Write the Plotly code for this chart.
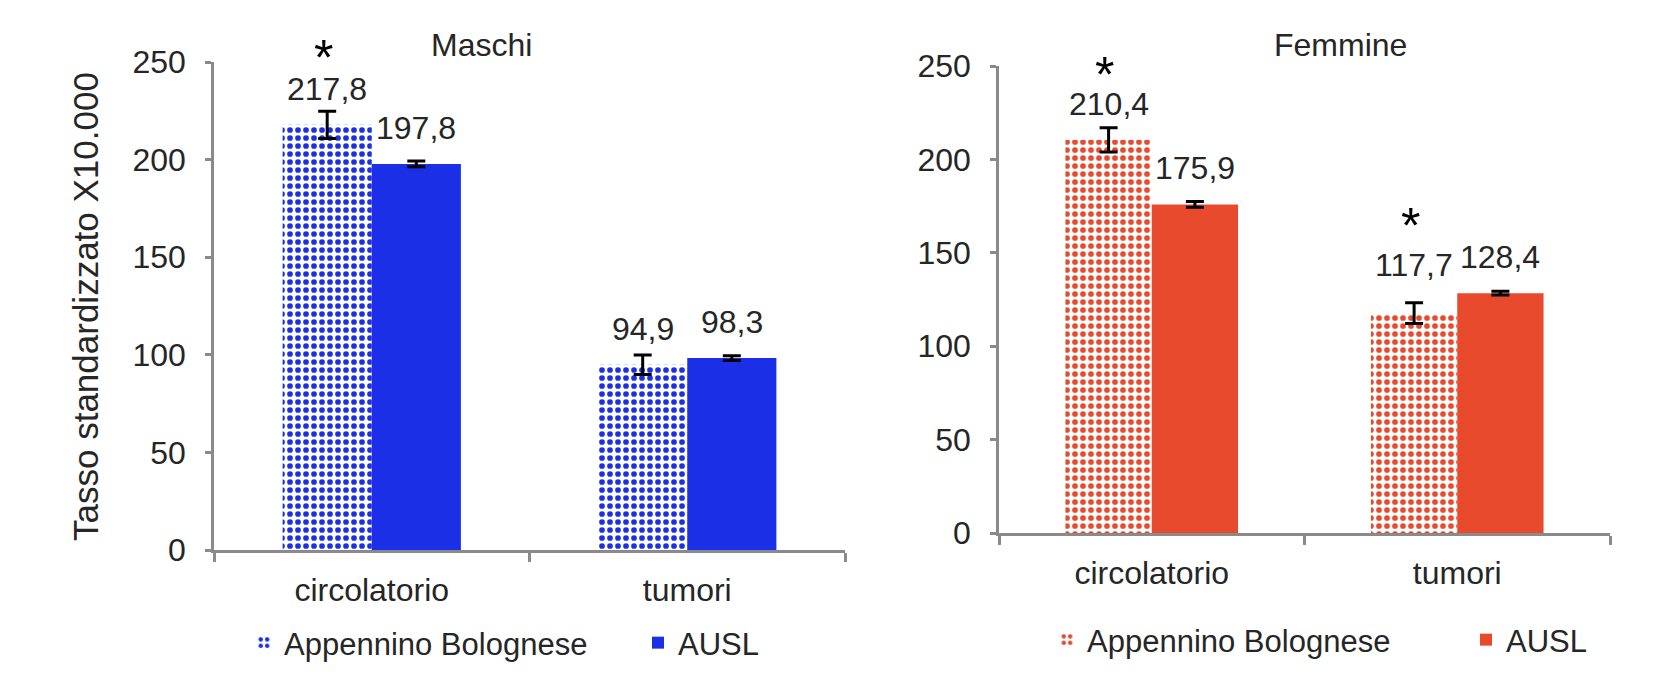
import plotly.graph_objects as go

# The page body adds an 8 px margin, so the figure is a little smaller than
# the window and every screen position is measured from that offset.
OFF = 8
W, H = 1656 - 2 * OFF, 674 - 2 * OFF

# ── Data ─────────────────────────────────────────────────────────────────────
categories = ["circolatorio", "tumori"]
series_names = ["Appennino Bolognese", "AUSL"]
y_ticks = [0, 50, 100, 150, 200, 250]

maschi_appennino = [217.8, 94.9]
maschi_appennino_err = [7.0, 5.0]
maschi_ausl = [197.8, 98.3]
maschi_ausl_err = [1.5, 1.2]
maschi_sig = [True, False]

femmine_appennino = [210.4, 117.7]
femmine_appennino_err = [6.5, 5.5]
femmine_ausl = [175.9, 128.4]
femmine_ausl_err = [1.5, 1.0]
femmine_sig = [True, True]

# ── Style ────────────────────────────────────────────────────────────────────
BLUE = "#1b2fe6"
RED = "#e84a2e"
AXIS = "#8a8a8a"
TEXT = "#262626"
FONT = "Liberation Sans, Arial, sans-serif"
BARGAP = 0.435
HALF = (1 - BARGAP) / 4      # centre offset of each bar in a group
LABEL_LIFT = 36              # px between bar top and value label centre
STAR_LIFT = 31               # px between value label and asterisk


def px_x(p):
    """Screen x (px) -> paper fraction."""
    return (p - OFF) / W


def px_y(p):
    """Screen y (px, from top) -> paper fraction."""
    return 1 - (p - OFF) / H


def fmt(v):
    return f"{v:.1f}".replace(".", ",")


panels = [
    dict(title="Maschi", title_xy=(482, 45), xa="x", ya="y",
         xdom=(214, 845), ydom=(550, 62), color=BLUE, legend="legend",
         ab=maschi_appennino, ab_err=maschi_appennino_err,
         au=maschi_ausl, au_err=maschi_ausl_err, sig=maschi_sig,
         label_extra=[0, 0], star_extra=[0, 0]),
    dict(title="Femmine", title_xy=(1340, 45), xa="x2", ya="y2",
         xdom=(999, 1610), ydom=(533, 66), color=RED, legend="legend2",
         ab=femmine_appennino, ab_err=femmine_appennino_err,
         au=femmine_ausl, au_err=femmine_ausl_err, sig=femmine_sig,
         label_extra=[0, 12], star_extra=[-2, 8]),
]

fig = go.Figure()
annotations = []

for k, p in enumerate(panels):
    fig.add_trace(go.Bar(
        x=categories, y=p["ab"], name=series_names[0],
        xaxis=p["xa"], yaxis=p["ya"], legend=p["legend"],
        marker=dict(color="white", line_width=0,
                    pattern=dict(shape=".", fgcolor=p["color"], bgcolor="white",
                                 size=8, solidity=0.4)),
        error_y=dict(type="data", array=p["ab_err"], color="black",
                     thickness=3, width=9),
    ))
    fig.add_trace(go.Bar(
        x=categories, y=p["au"], name=series_names[1],
        xaxis=p["xa"], yaxis=p["ya"], legend=p["legend"],
        marker=dict(color=p["color"], line_width=0),
        error_y=dict(type="data", array=p["au_err"], color="black",
                     thickness=3, width=9),
    ))

    for i in range(len(categories)):
        for off, vals in ((-HALF, p["ab"]), (HALF, p["au"])):
            lift = LABEL_LIFT + (p["label_extra"][i] if off < 0 else 0)
            annotations.append(dict(
                x=i + off, y=vals[i], xref=p["xa"], yref=p["ya"],
                text=fmt(vals[i]), showarrow=False, yanchor="middle",
                yshift=lift, font=dict(size=32, color=TEXT, family=FONT),
            ))
            if off < 0 and p["sig"][i]:
                annotations.append(dict(
                    x=i + off, y=vals[i], xref=p["xa"], yref=p["ya"],
                    text="*", showarrow=False, yanchor="middle",
                    yshift=lift + STAR_LIFT + p["star_extra"][i], xshift=-4,
                    font=dict(size=50, color="black", family=FONT),
                ))

    annotations.append(dict(
        x=px_x(p["title_xy"][0]), y=px_y(p["title_xy"][1]),
        xref="paper", yref="paper", text=p["title"], showarrow=False,
        xanchor="center", yanchor="middle",
        font=dict(size=32, color=TEXT, family=FONT),
    ))

annotations.append(dict(
    x=px_x(85), y=px_y(307), xref="paper", yref="paper",
    text="Tasso standardizzato X10.000", textangle=-90, showarrow=False,
    xanchor="center", yanchor="middle",
    font=dict(size=35, color=TEXT, family=FONT),
))

axis_common = dict(
    showline=True, linecolor=AXIS, linewidth=2.5, showgrid=False,
    zeroline=False, ticks="outside", tickcolor=AXIS, tickwidth=2.5,
    tickfont=dict(size=32, color=TEXT, family=FONT), automargin=False,
)

layout_axes = {}
for k, p in enumerate(panels):
    sx = "" if k == 0 else "2"
    layout_axes[f"xaxis{sx}"] = dict(
        axis_common, domain=[px_x(p["xdom"][0]), px_x(p["xdom"][1])],
        anchor=p["ya"], type="category", tickson="boundaries", ticklen=9,
        ticklabelstandoff=10,
    )
    layout_axes[f"yaxis{sx}"] = dict(
        axis_common, domain=[px_y(p["ydom"][0]), px_y(p["ydom"][1])],
        anchor=p["xa"], range=[0, 250], tickvals=y_ticks, ticklen=6,
        ticklabelstandoff=13,
    )

legend_common = dict(
    orientation="h", xanchor="left", yanchor="middle",
    bgcolor="rgba(0,0,0,0)", traceorder="normal",
    font=dict(size=31, color=TEXT, family=FONT),
)

fig.update_layout(
    **layout_axes,
    width=W, height=H,
    margin=dict(l=0, r=0, t=0, b=0, autoexpand=False),
    template="none",
    paper_bgcolor="white", plot_bgcolor="white",
    barmode="group", bargap=BARGAP, bargroupgap=0,
    annotations=annotations,
    showlegend=True,
    legend=dict(legend_common, x=px_x(244), y=px_y(643), entrywidth=349),
    legend2=dict(legend_common, x=px_x(1047), y=px_y(640), entrywidth=374),
)

fig.write_html("out.html")
